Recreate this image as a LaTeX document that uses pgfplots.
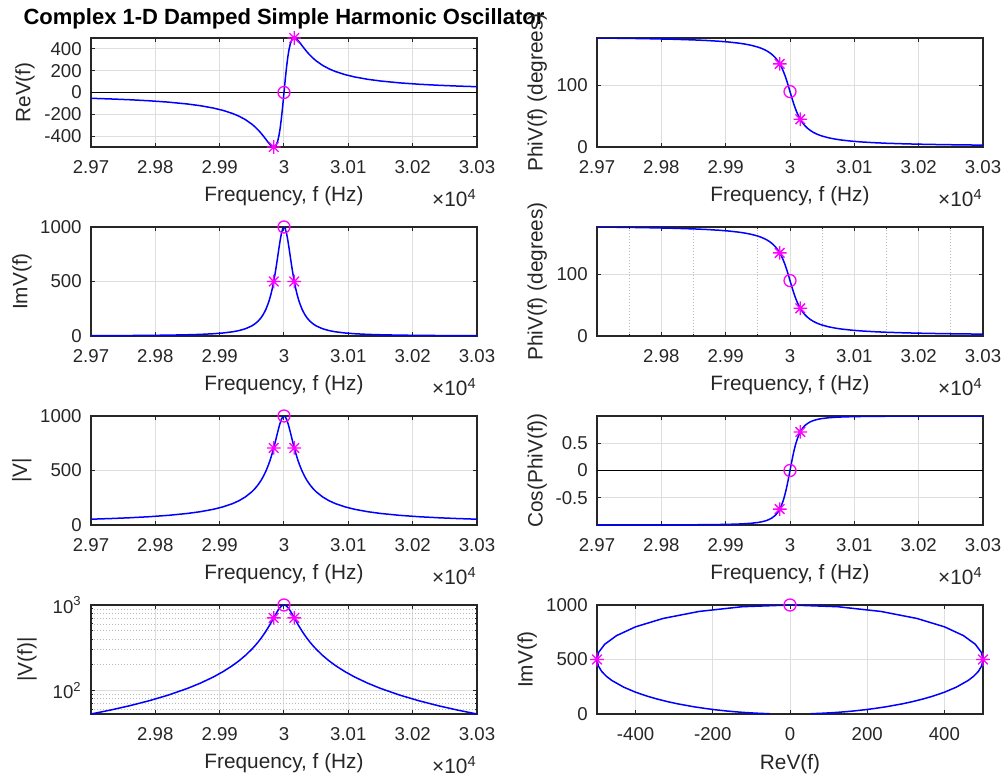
\documentclass[border=0pt]{standalone}
\usepackage{fontspec}
\setmainfont{Liberation Sans}
\usepackage{pgfplots}
\pgfplotsset{compat=1.18}
\usepackage{pgfplotstable}

\definecolor{mtext}{rgb}{0.15,0.15,0.15}
\definecolor{mgrid}{rgb}{0.87,0.87,0.87}
\definecolor{mminor}{rgb}{0.72,0.72,0.72}
\definecolor{mblue}{rgb}{0,0,1}
\definecolor{mmag}{rgb}{1,0,1}

% MATLAB style 8-armed asterisk
\pgfdeclareplotmark{mstar}{%
  \pgfpathmoveto{\pgfqpoint{-\pgfplotmarksize}{0pt}}%
  \pgfpathlineto{\pgfqpoint{\pgfplotmarksize}{0pt}}%
  \pgfpathmoveto{\pgfqpoint{0pt}{-\pgfplotmarksize}}%
  \pgfpathlineto{\pgfqpoint{0pt}{\pgfplotmarksize}}%
  \pgfpathmoveto{\pgfqpoint{-0.707\pgfplotmarksize}{-0.707\pgfplotmarksize}}%
  \pgfpathlineto{\pgfqpoint{0.707\pgfplotmarksize}{0.707\pgfplotmarksize}}%
  \pgfpathmoveto{\pgfqpoint{-0.707\pgfplotmarksize}{0.707\pgfplotmarksize}}%
  \pgfpathlineto{\pgfqpoint{0.707\pgfplotmarksize}{-0.707\pgfplotmarksize}}%
  \pgfusepathqstroke}

% f in units of 1e4 Hz
\pgfplotstableread{
f re im abs phi cos
2.9700 -53.18 2.836 53.26 176.95 -0.9986
2.9730 -59.05 3.499 59.16 176.61 -0.9983
2.9760 -66.37 4.425 66.52 176.19 -0.9978
2.9790 -75.75 5.771 75.97 175.64 -0.9971
2.9820 -88.19 7.839 88.54 174.92 -0.9961
2.9850 -105.47 11.25 106.07 173.91 -0.9944
2.9870 -121.24 14.92 122.15 172.98 -0.9925
2.9890 -142.44 20.72 143.94 171.72 -0.9896
2.9905 -163.78 27.58 166.08 170.44 -0.9861
2.9920 -192.31 38.46 196.12 168.69 -0.9806
2.9930 -217.22 49.65 222.82 167.13 -0.9748
2.9940 -248.96 66.39 257.66 165.07 -0.9662
2.9950 -290.28 92.89 304.78 162.26 -0.9524
2.9955 -315.65 112.23 335.00 160.43 -0.9422
2.9960 -344.83 137.93 371.40 158.20 -0.9285
2.9964 -371.13 164.95 406.10 156.04 -0.9138
2.9968 -400.00 200.00 447.21 153.43 -0.8944
2.9972 -430.77 246.15 496.14 150.26 -0.8682
2.9976 -461.54 307.69 554.70 146.31 -0.8321
2.9978 -475.68 345.95 588.17 143.97 -0.8087
2.9980 -487.80 390.24 624.70 141.34 -0.7809
2.9982 -496.55 441.38 664.36 138.37 -0.7474
2.9984 -500.00 500.00 707.11 135.00 -0.7071
2.9986 -495.58 566.37 752.58 131.19 -0.6585
2.9988 -480.00 640.00 800.00 126.87 -0.6000
2.9990 -449.44 719.10 847.97 122.01 -0.5300
2.9992 -400.00 800.00 894.43 116.57 -0.4472
2.9994 -328.77 876.71 936.33 110.56 -0.3511
2.9996 -235.29 941.18 970.14 104.04 -0.2425
2.9998 -123.08 984.62 992.28 97.13 -0.1240
3.0000 0.00 1000.00 1000.00 90.00 0.0000
3.0002 123.08 984.62 992.28 82.87 0.1240
3.0004 235.29 941.18 970.14 75.96 0.2425
3.0006 328.77 876.71 936.33 69.44 0.3511
3.0008 400.00 800.00 894.43 63.43 0.4472
3.0010 449.44 719.10 847.97 57.99 0.5300
3.0012 480.00 640.00 800.00 53.13 0.6000
3.0014 495.58 566.37 752.58 48.81 0.6585
3.0016 500.00 500.00 707.11 45.00 0.7071
3.0018 496.55 441.38 664.36 41.63 0.7474
3.0020 487.80 390.24 624.70 38.66 0.7809
3.0022 475.68 345.95 588.17 36.03 0.8087
3.0024 461.54 307.69 554.70 33.69 0.8321
3.0028 430.77 246.15 496.14 29.74 0.8682
3.0032 400.00 200.00 447.21 26.57 0.8944
3.0036 371.13 164.95 406.10 23.96 0.9138
3.0040 344.83 137.93 371.40 21.80 0.9285
3.0045 315.65 112.23 335.00 19.57 0.9422
3.0050 290.28 92.89 304.78 17.74 0.9524
3.0060 248.96 66.39 257.66 14.93 0.9662
3.0070 217.22 49.65 222.82 12.87 0.9748
3.0080 192.31 38.46 196.12 11.31 0.9806
3.0095 163.78 27.58 166.08 9.56 0.9861
3.0110 142.44 20.72 143.94 8.28 0.9896
3.0130 121.24 14.92 122.15 7.02 0.9925
3.0150 105.47 11.25 106.07 6.09 0.9944
3.0180 88.19 7.839 88.54 5.08 0.9961
3.0210 75.75 5.771 75.97 4.36 0.9971
3.0240 66.37 4.425 66.52 3.81 0.9978
3.0270 59.05 3.499 59.16 3.39 0.9983
3.0300 53.18 2.836 53.26 3.05 0.9986
}\osc

\newcommand\tickfont{\fontsize{9.3}{11}\selectfont}
\newcommand\labfont{\fontsize{10.4}{12}\selectfont}

\pgfplotsset{
  mat/.style={
    scale only axis, width=193pt, height=54.5pt, anchor=north west,
    axis line style={mtext, line width=0.75pt},
    tick style={mtext, line width=0.5pt},
    tick align=inside, major tick length=2pt, minor tick length=1.2pt,
    grid=major,
    major grid style={mgrid, line width=0.5pt},
    minor grid style={mminor, line width=0.4pt, dash pattern=on 0.4pt off 1.1pt},
    tick label style={font=\tickfont, text=mtext},
    xticklabel style={anchor=north, inner sep=0pt, yshift=-6.5pt},
    yticklabel style={anchor=east, inner sep=0pt, xshift=-4.5pt},
    label style={font=\labfont, text=mtext},
    xlabel style={at={(axis description cs:0.5,-0.45)}, anchor=center, inner sep=0pt},
    every axis title shift=0pt,
  },
  freq/.style={
    xmin=2.97, xmax=3.03,
    xtick={2.97,2.98,2.99,3,3.01,3.02,3.03},
    xticklabels={2.97,2.98,2.99,3,3.01,3.02,3.03},
    xlabel={Frequency, f (Hz)},
    after end axis/.code={
      \node[anchor=north east, inner sep=0pt, text=mtext, font=\labfont, yshift=-21pt]
        at (rel axis cs:1,0) {×10\textsuperscript{4}};
    },
  },
  freqb/.style={
    freq,
    xtick={2.98,2.99,3,3.01,3.02,3.03},
    xticklabels={2.98,2.99,3,3.01,3.02,3.03},
  },
  ylab/.style={ylabel style={at={(axis description cs:-#1,0.5)}, anchor=center, inner sep=0pt}},
  curve/.style={mblue, line width=0.75pt, no markers},
  stars/.style={only marks, mmag, mark=mstar, mark size=3.4pt, line width=0.65pt},
  ring/.style={only marks, mmag, mark=o, mark size=3pt, line width=0.65pt},
}

\begin{document}
\begin{tikzpicture}
\path[use as bounding box] (0,0) rectangle (502.5pt,-388pt);

% row 1 left: real part
\begin{axis}[mat, freq, at={(45.5pt,-19pt)},
  ymin=-500, ymax=500,
  ytick={-400,-200,0,200,400}, yticklabels={-400,-200,0,200,400},
  ylabel={ReV(f)}, ylab=0.171,
  title={Complex 1-D Damped Simple Harmonic Oscillator},
  title style={at={(axis description cs:0.5,1)}, anchor=center, yshift=9.75pt,
    inner sep=0pt, font=\bfseries\fontsize{11}{13}\selectfont, text=black},
]
\addplot[black, line width=0.8pt] coordinates {(2.97,0) (3.03,0)};
\addplot[curve] table[x=f, y=re] {\osc};
\addplot[stars] coordinates {(2.9984,-500) (3.0016,500)};
\addplot[ring] coordinates {(3,0)};
\end{axis}

% row 1 right: phase
\begin{axis}[mat, freq, at={(298.5pt,-19pt)},
  ymin=0, ymax=177,
  ytick={0,100}, yticklabels={0,100},
  ylabel={PhiV(f) (degrees)}, ylab=0.155,
]
\addplot[curve] table[x=f, y=phi] {\osc};
\addplot[stars] coordinates {(2.9984,135) (3.0016,45)};
\addplot[ring] coordinates {(3,90)};
\end{axis}

% row 2 left: imaginary part
\begin{axis}[mat, freq, at={(45.5pt,-113.5pt)},
  ymin=0, ymax=1000,
  ytick={0,500,1000}, yticklabels={0,500,1000},
  ylabel={ImV(f)}, ylab=0.179,
]
\addplot[curve] table[x=f, y=im] {\osc};
\addplot[stars] coordinates {(2.9984,500) (3.0016,500)};
\addplot[ring] coordinates {(3,1000)};
\end{axis}

% row 2 right: phase with minor grid
\begin{axis}[mat, freqb, at={(298.5pt,-113.5pt)},
  ymin=0, ymax=177,
  ytick={0,100}, yticklabels={0,100},
  minor xtick={2.975,2.985,2.995,3.005,3.015,3.025},
  xminorgrids=true,
  ylabel={PhiV(f) (degrees)}, ylab=0.155,
]
\addplot[curve] table[x=f, y=phi] {\osc};
\addplot[stars] coordinates {(2.9984,135) (3.0016,45)};
\addplot[ring] coordinates {(3,90)};
\end{axis}

% row 3 left: magnitude
\begin{axis}[mat, freq, at={(45.5pt,-208pt)},
  ymin=0, ymax=1000,
  ytick={0,500,1000}, yticklabels={0,500,1000},
  ylabel={|V|}, ylab=0.179,
]
\addplot[curve] table[x=f, y=abs] {\osc};
\addplot[stars] coordinates {(2.9984,707.11) (3.0016,707.11)};
\addplot[ring] coordinates {(3,1000)};
\end{axis}

% row 3 right: cosine of phase
\begin{axis}[mat, freq, at={(298.5pt,-208pt)},
  ymin=-0.9986, ymax=0.9986,
  ytick={-0.5,0,0.5}, yticklabels={-0.5,0,0.5},
  ylabel={Cos(PhiV(f))}, ylab=0.155,
]
\addplot[black, line width=0.8pt] coordinates {(2.97,0) (3.03,0)};
\addplot[curve] table[x=f, y=cos] {\osc};
\addplot[stars] coordinates {(2.9984,-0.7071) (3.0016,0.7071)};
\addplot[ring] coordinates {(3,0)};
\end{axis}

% row 4 left: log magnitude
\begin{axis}[mat, freqb, at={(45.5pt,-302.5pt)},
  ymode=log, ymin=53.26, ymax=1000,
  ytick={100,1000}, yticklabels={10\textsuperscript{2},10\textsuperscript{3}},
  minor ytick={60,70,80,90,200,300,400,500,600,700,800,900},
  yminorgrids=true,
  ylabel={|V(f)|}, ylab=0.166,
]
\addplot[curve] table[x=f, y=abs] {\osc};
\addplot[stars] coordinates {(2.9984,707.11) (3.0016,707.11)};
\addplot[ring] coordinates {(3,1000)};
\end{axis}

% row 4 right: Im vs Re
\begin{axis}[mat, at={(298.5pt,-302.5pt)},
  xmin=-500, xmax=500, ymin=0, ymax=1000,
  xtick={-400,-200,0,200,400}, xticklabels={-400,-200,0,200,400},
  ytick={0,500,1000}, yticklabels={0,500,1000},
  xlabel={ReV(f)}, ylabel={ImV(f)}, ylab=0.181,
  xlabel style={at={(axis description cs:0.5,-0.46)}},
]
\addplot[curve] table[x=re, y=im] {\osc};
\addplot[stars] coordinates {(-500,500) (500,500)};
\addplot[ring] coordinates {(0,1000)};
\end{axis}
\end{tikzpicture}
\end{document}
